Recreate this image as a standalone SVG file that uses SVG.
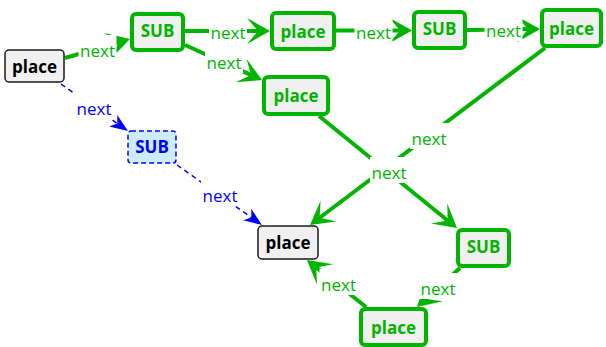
<svg xmlns="http://www.w3.org/2000/svg" width="606" height="347" viewBox="0 0 606 347">
  <style>
    .eg { stroke: #00b400; stroke-width: 4; fill: none; }
    .eb { stroke: #0000ff; stroke-width: 1.5; stroke-dasharray: 5 4; fill: none; }
    .lbg { fill: #ffffff; }
    .lt { font-family: "Open Sans", "Noto Sans", sans-serif; font-size: 17px; text-anchor: middle; }
    .lg { fill: #00b400; }
    .lb { fill: #0000ff; }
    .ng rect { fill: #f0f0f0; stroke: #00b400; stroke-width: 4; }
    .nk rect { fill: #f0f0f0; stroke: #1a1a1a; stroke-width: 1.5; }
    .nb rect { fill: #ccecff; stroke: #0000ff; stroke-width: 1.5; stroke-dasharray: 5 3; }
    .nt { font-family: "Open Sans", "Noto Sans", sans-serif; font-size: 17px; font-weight: bold; text-anchor: middle; }
    .ng text { fill: #00b400; }
    .nk text { fill: #000000; }
    .nb text { fill: #0000ff; }
  </style>
  <defs>
    <marker id="ahg" markerUnits="userSpaceOnUse" orient="auto" markerWidth="30" markerHeight="30" viewBox="-15 -15 30 30" refX="0" refY="0" overflow="visible">
      <path d="M10,0 L-13,-13 L-2,0 L-13,13 Z" fill="#00b400"/>
    </marker>
    <marker id="ahb" markerUnits="userSpaceOnUse" orient="auto" markerWidth="30" markerHeight="30" viewBox="-15 -15 30 30" refX="0" refY="0" overflow="visible">
      <path d="M10,0 L-8,-7 L-3,0 L-8,7 Z" fill="#0000ff"/>
    </marker>
  </defs>

  <g id="connectors">
    <g id="edge-lines">
      <line class="eg" x1="65" y1="58" x2="120.4" y2="41.8" marker-end="url(#ahg)"/>
      <line class="eg" x1="185" y1="31" x2="260" y2="31" marker-end="url(#ahg)"/>
      <line class="eg" x1="336" y1="30.5" x2="402" y2="30.5" marker-end="url(#ahg)"/>
      <line class="eg" x1="467" y1="30" x2="530" y2="29.1" marker-end="url(#ahg)"/>
      <line class="eg" x1="185" y1="45" x2="252.9" y2="75.9" marker-end="url(#ahg)"/>
      <line class="eg" x1="319" y1="116" x2="449.2" y2="221.7" marker-end="url(#ahg)"/>
      <line class="eg" x1="545" y1="48" x2="318" y2="219" marker-end="url(#ahg)"/>
      <line class="eg" x1="460" y1="268" x2="424.4" y2="300.3" marker-end="url(#ahg)"/>
      <line class="eg" x1="366" y1="307" x2="314.8" y2="266.2" marker-end="url(#ahg)"/>
      <line class="eb" x1="61" y1="84" x2="119.8" y2="125.3" marker-end="url(#ahb)"/>
      <line class="eb" x1="177" y1="165" x2="253.8" y2="219.2" marker-end="url(#ahb)"/>
    </g>
    <g id="edge-labels">
      <rect class="lbg" x="78.5" y="35" width="38" height="26"/>
      <text class="lt lg" x="97.5" y="57">next</text>
      <rect class="lbg" x="209" y="16.5" width="38" height="26"/>
      <text class="lt lg" x="228" y="38.5">next</text>
      <rect class="lbg" x="354.5" y="16.5" width="38" height="26"/>
      <text class="lt lg" x="373.5" y="38.5">next</text>
      <rect class="lbg" x="484.5" y="15" width="38" height="26"/>
      <text class="lt lg" x="503.5" y="37">next</text>
      <rect class="lbg" x="205" y="47" width="38" height="26"/>
      <text class="lt lg" x="224" y="69">next</text>
      <rect class="lbg" x="410" y="123" width="38" height="26"/>
      <text class="lt lg" x="429" y="145">next</text>
      <rect class="lbg" x="370" y="157" width="38" height="26"/>
      <text class="lt lg" x="389" y="179">next</text>
      <rect class="lbg" x="419" y="273" width="38" height="26"/>
      <text class="lt lg" x="438" y="295">next</text>
      <rect class="lbg" x="319.5" y="269" width="38" height="26"/>
      <text class="lt lg" x="338.5" y="291">next</text>
      <rect class="lbg" x="75" y="92.5" width="38" height="26"/>
      <text class="lt lb" x="94" y="114.5">next</text>
      <rect class="lbg" x="201" y="180" width="38" height="26"/>
      <text class="lt lb" x="220" y="202">next</text>
    </g>
  </g>

  <g id="place-start" class="nk">
    <rect x="5" y="50" width="59" height="32" rx="4"/>
    <text class="nt" x="34.5" y="72.5">place</text>
  </g>
  <g id="sub-1" class="ng">
    <rect x="132" y="14" width="51" height="36" rx="4"/>
    <text class="nt" x="157.5" y="37">SUB</text>
  </g>
  <g id="place-1" class="ng">
    <rect x="272" y="13" width="62" height="36" rx="4"/>
    <text class="nt" x="303" y="37.5">place</text>
  </g>
  <g id="sub-2" class="ng">
    <rect x="414" y="12" width="51" height="36" rx="4"/>
    <text class="nt" x="439.5" y="35">SUB</text>
  </g>
  <g id="place-2" class="ng">
    <rect x="542" y="10" width="59" height="36" rx="4"/>
    <text class="nt" x="571.5" y="34.5">place</text>
  </g>
  <g id="place-3" class="ng">
    <rect x="264" y="77" width="64" height="37" rx="4"/>
    <text class="nt" x="296" y="102">place</text>
  </g>
  <g id="sub-optional" class="nb">
    <rect x="128" y="131" width="48" height="32" rx="3"/>
    <text class="nt" x="152" y="153">SUB</text>
  </g>
  <g id="place-end" class="nk">
    <rect x="258" y="226" width="60" height="33" rx="4"/>
    <text class="nt" x="288" y="249">place</text>
  </g>
  <g id="sub-3" class="ng">
    <rect x="458" y="230" width="51" height="36" rx="4"/>
    <text class="nt" x="483.5" y="253">SUB</text>
  </g>
  <g id="place-4" class="ng">
    <rect x="361" y="309" width="65" height="36" rx="4"/>
    <text class="nt" x="393.5" y="333.5">place</text>
  </g>
</svg>
